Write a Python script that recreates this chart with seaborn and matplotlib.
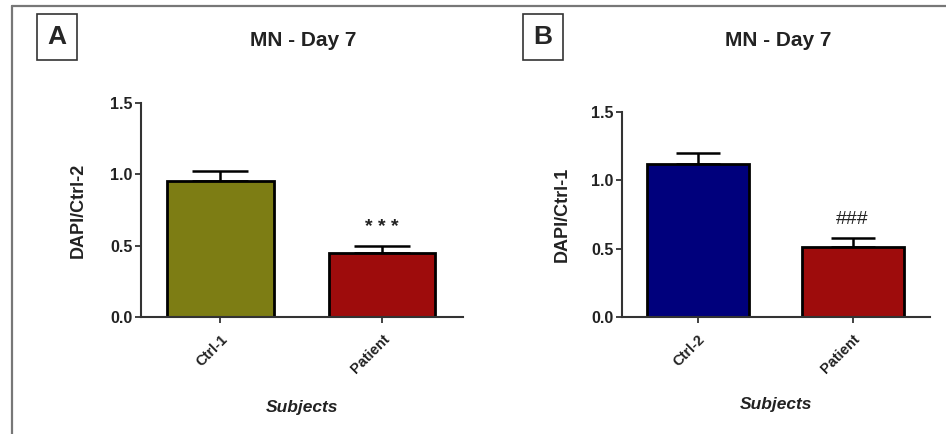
import seaborn as sns
import matplotlib.pyplot as plt
import pandas as pd
from matplotlib.lines import Line2D

# data
groups_a = ['Ctrl-1', 'Patient']
means_a = [0.95, 0.45]
errs_a = [0.07, 0.05]

groups_b = ['Ctrl-2', 'Patient']
means_b = [1.12, 0.51]
errs_b = [0.08, 0.07]

colors_a = ['#7d7d14', '#9e0c0c']
colors_b = ['#00007c', '#9e0c0c']

sns.set_style('white')
plt.rcParams['font.family'] = ['Liberation Sans', 'DejaVu Sans']
plt.rcParams['font.weight'] = 'bold'

fig = plt.figure(figsize=(9.46, 4.34), dpi=100)

# outer frame (top + left edge as in the source image)
fig.add_artist(Line2D([12 / 946, 12 / 946], [0.0, 1 - 6 / 434], transform=fig.transFigure, color='#777777', lw=1.6))
fig.add_artist(Line2D([12 / 946, 1.0], [1 - 6 / 434, 1 - 6 / 434], transform=fig.transFigure, color='#777777', lw=1.6))


def panel(rect, groups, means, errs, colors, ylabel, mark, cap, mark_size, mark_weight):
    ax = fig.add_axes(rect)
    df = pd.DataFrame({'group': groups, 'value': means})
    sns.barplot(data=df, x='group', y='value', hue='group', palette=colors, legend=False, saturation=1,
                width=0.66, edgecolor='black', linewidth=2, errorbar=None, ax=ax)
    ax.errorbar(range(len(means)), means, yerr=[[0] * len(errs), errs], fmt='none',
                ecolor='black', elinewidth=1.8, capsize=cap, capthick=1.8, zorder=0)
    ax.text(1, means[1] + errs[1] + 0.13, mark, ha='center', va='center', fontsize=mark_size,
            fontweight=mark_weight, color='#222222')
    ax.set_ylim(0, 1.5)
    ax.set_xlim(-0.49, 1.5)
    ax.set_yticks([0, 0.5, 1.0, 1.5])
    ax.set_yticklabels(['0.0', '0.5', '1.0', '1.5'], fontsize=11.5, fontweight='bold', color='#222222')
    ax.set_xticks(range(len(groups)))
    ax.set_xticklabels(groups, rotation=45, ha='right', rotation_mode='anchor', fontsize=10.5,
                       fontweight='bold', color='#222222')
    ax.tick_params(axis='both', direction='out', length=4, width=1.3, color='#333333', pad=2, left=True, bottom=True)
    ax.tick_params(axis='x', pad=7)
    sns.despine(ax=ax)
    for s in ['left', 'bottom']:
        ax.spines[s].set_linewidth(1.5)
        ax.spines[s].set_color('#333333')
    ax.set_ylabel(ylabel, fontsize=13, fontweight='bold', color='#222222')
    ax.yaxis.set_label_coords(-0.167, 0.5)
    ax.set_xlabel('Subjects', fontsize=12.5, fontweight='bold', style='italic', color='#222222')
    ax.xaxis.set_label_coords(0.5, -0.39)
    return ax


panel([141 / 946, 1 - 317 / 434, 322 / 946, 214 / 434], groups_a, means_a, errs_a, colors_a,
      'DAPI/Ctrl-2', '* * *', 20, 14, 'bold')
panel([622 / 946, 1 - 317 / 434, 308 / 946, 205 / 434], groups_b, means_b, errs_b, colors_b,
      'DAPI/Ctrl-1', '###', 16, 14, 'normal')

fig.text(303 / 946, 1 - 40 / 434, 'MN - Day 7', ha='center', va='center', fontsize=15, fontweight='bold', color='#222222')
fig.text(778 / 946, 1 - 40 / 434, 'MN - Day 7', ha='center', va='center', fontsize=15, fontweight='bold', color='#222222')

box = dict(boxstyle='square,pad=0.4', facecolor='white', edgecolor='#333333', linewidth=1.2)
fig.text(57 / 946, 1 - 37 / 434, 'A', ha='center', va='center', fontsize=19, fontweight='bold', bbox=box)
fig.text(543 / 946, 1 - 37 / 434, 'B', ha='center', va='center', fontsize=19, fontweight='bold', bbox=box)

fig.savefig('out.png', dpi=100)
